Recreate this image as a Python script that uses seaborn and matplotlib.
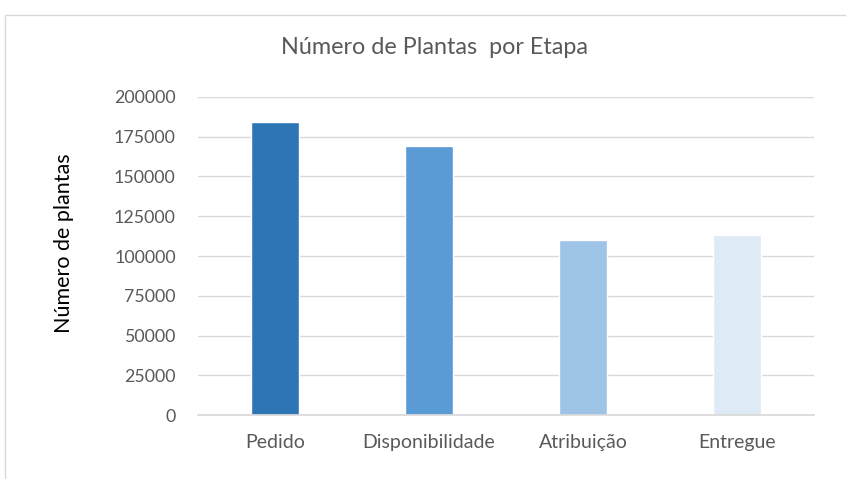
import matplotlib
matplotlib.use("Agg")
import matplotlib.pyplot as plt
import seaborn as sns
import pandas as pd
from matplotlib.lines import Line2D

categories = ["Pedido", "Disponibilidade", "Atribuição", "Entregue"]
values = [184500, 169300, 110000, 113200]
colors = ["#2E75B6", "#5B9BD5", "#9DC3E6", "#DEEBF7"]
yticks = [0, 25000, 50000, 75000, 100000, 125000, 150000, 175000, 200000]

sns.set_theme(style="white")
plt.rcParams['font.family'] = ['Lato', 'DejaVu Sans']

df = pd.DataFrame({"Etapa": categories, "Plantas": values})

fig = plt.figure(figsize=(8.46, 4.79), dpi=100)
ax = fig.add_axes([0.234, 0.1336, 0.728, 0.6639])
sns.barplot(data=df, x="Etapa", y="Plantas", hue="Etapa", palette=colors,
            width=0.31, legend=False, ax=ax, saturation=1)

ax.set_ylim(0, 200000)
ax.set_yticks(yticks)
ax.set_yticklabels([str(v) for v in yticks])
ax.set_xlim(-0.5, 3.5)
ax.yaxis.grid(True, color="#D9D9D9", linewidth=1)
ax.set_axisbelow(True)
for s in ["top", "right", "left"]:
    ax.spines[s].set_visible(False)
ax.spines["bottom"].set_color("#D9D9D9")
ax.tick_params(axis="both", length=0, colors="#595959")
ax.tick_params(axis="y", labelsize=12.8, pad=16)
ax.tick_params(axis="x", labelsize=14, pad=14)
ax.set_xlabel("")
ax.set_ylabel("Número de plantas", fontsize=15.5, color="black")
ax.yaxis.set_label_coords(-0.201, 0.54)

fig.text(0.514, 0.9, "Número de Plantas  por Etapa", ha="center", va="center",
         fontsize=16.8, color="#595959")

# chart frame (top and left edges)
fig.add_artist(Line2D([0.006, 1.0], [1 - 15/479, 1 - 15/479], color="#D9D9D9", lw=1, transform=fig.transFigure))
fig.add_artist(Line2D([0.006, 0.006], [0.0, 1 - 15/479], color="#D9D9D9", lw=1, transform=fig.transFigure))

fig.savefig("out.png", dpi=100, facecolor="white")
